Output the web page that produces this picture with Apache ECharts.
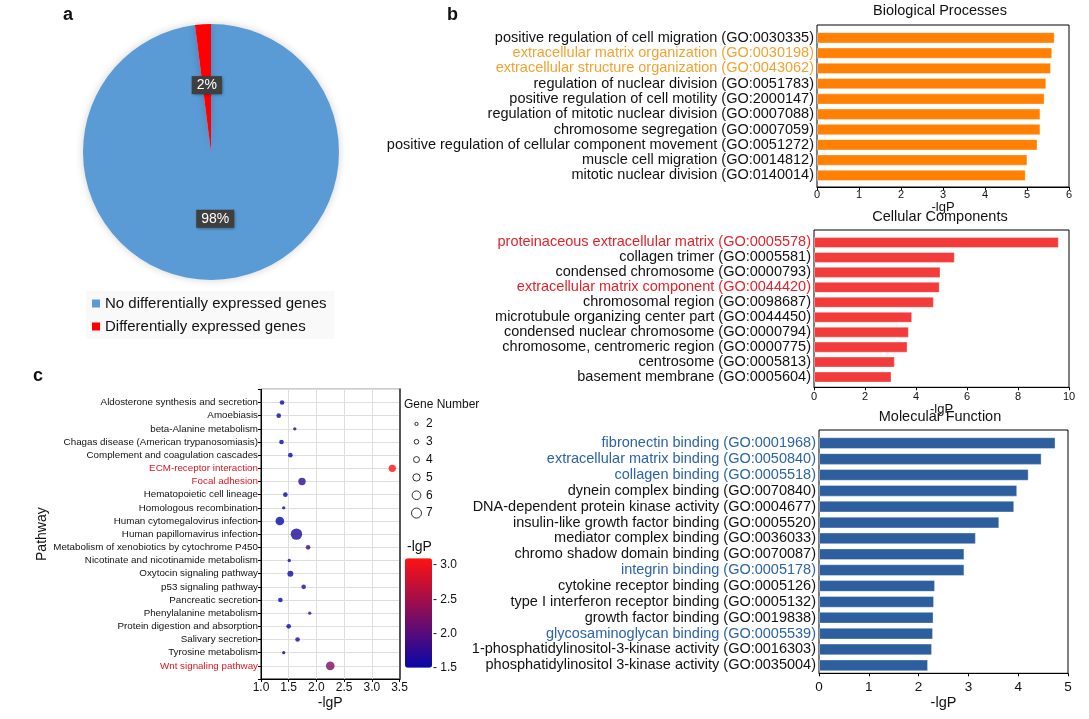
<!DOCTYPE html>
<html><head><meta charset="utf-8">
<script src="https://cdn.jsdelivr.net/npm/echarts@6/dist/echarts.min.js"></script>
<style>html,body{margin:0;padding:0;background:#fff}#c{width:1089px;height:719px}</style>
</head><body><div id="c"></div><script>
const FONT = '"Liberation Sans", Arial, Helvetica, sans-serif';

// ---- panel a: pie ----
const pieNames = ['No differentially expressed genes', 'Differentially expressed genes'];
const pieValues = [98, 2];
const pieColors = ['#5b9bd5', '#ff0000'];

// ---- panel b: GO enrichment ----
const bpTerms = [
  'positive regulation of cell migration (GO:0030335)',
  'extracellular matrix organization (GO:0030198)',
  'extracellular structure organization (GO:0043062)',
  'regulation of nuclear division (GO:0051783)',
  'positive regulation of cell motility (GO:2000147)',
  'regulation of mitotic nuclear division (GO:0007088)',
  'chromosome segregation (GO:0007059)',
  'positive regulation of cellular component movement (GO:0051272)',
  'muscle cell migration (GO:0014812)',
  'mitotic nuclear division (GO:0140014)'
];
const bpValues = [5.66, 5.60, 5.57, 5.46, 5.42, 5.32, 5.32, 5.25, 5.01, 4.97];
const bpHighlight = ['extracellular matrix organization (GO:0030198)', 'extracellular structure organization (GO:0043062)'];

const ccTerms = [
  'proteinaceous extracellular matrix (GO:0005578)',
  'collagen trimer (GO:0005581)',
  'condensed chromosome (GO:0000793)',
  'extracellular matrix component (GO:0044420)',
  'chromosomal region (GO:0098687)',
  'microtubule organizing center part (GO:0044450)',
  'condensed nuclear chromosome (GO:0000794)',
  'chromosome, centromeric region (GO:0000775)',
  'centrosome (GO:0005813)',
  'basement membrane (GO:0005604)'
];
const ccValues = [9.60, 5.52, 4.96, 4.93, 4.70, 3.85, 3.72, 3.67, 3.17, 3.04];
const ccHighlight = ['proteinaceous extracellular matrix (GO:0005578)', 'extracellular matrix component (GO:0044420)'];

const mfTerms = [
  'fibronectin binding (GO:0001968)',
  'extracellular matrix binding (GO:0050840)',
  'collagen binding (GO:0005518)',
  'dynein complex binding (GO:0070840)',
  'DNA-dependent protein kinase activity (GO:0004677)',
  'insulin-like growth factor binding (GO:0005520)',
  'mediator complex binding (GO:0036033)',
  'chromo shadow domain binding (GO:0070087)',
  'integrin binding (GO:0005178)',
  'cytokine receptor binding (GO:0005126)',
  'type I interferon receptor binding (GO:0005132)',
  'growth factor binding (GO:0019838)',
  'glycosaminoglycan binding (GO:0005539)',
  '1-phosphatidylinositol-3-kinase activity (GO:0016303)',
  'phosphatidylinositol 3-kinase activity (GO:0035004)'
];
const mfValues = [4.75, 4.47, 4.21, 3.98, 3.92, 3.62, 3.15, 2.92, 2.92, 2.33, 2.31, 2.30, 2.29, 2.27, 2.19];
const mfHighlight = ['fibronectin binding (GO:0001968)', 'extracellular matrix binding (GO:0050840)', 'collagen binding (GO:0005518)', 'integrin binding (GO:0005178)', 'glycosaminoglycan binding (GO:0005539)'];

// ---- panel c: KEGG bubble ----
const pathways = [
  'Aldosterone synthesis and secretion', 'Amoebiasis', 'beta-Alanine metabolism',
  'Chagas disease (American trypanosomiasis)', 'Complement and coagulation cascades',
  'ECM-receptor interaction', 'Focal adhesion', 'Hematopoietic cell lineage',
  'Homologous recombination', 'Human cytomegalovirus infection', 'Human papillomavirus infection',
  'Metabolism of xenobiotics by cytochrome P450', 'Nicotinate and nicotinamide metabolism',
  'Oxytocin signaling pathway', 'p53 signaling pathway', 'Pancreatic secretion',
  'Phenylalanine metabolism', 'Protein digestion and absorption', 'Salivary secretion',
  'Tyrosine metabolism', 'Wnt signaling pathway'
];
const pathwayLgP = [1.38, 1.32, 1.61, 1.37, 1.53, 3.37, 1.74, 1.44, 1.41, 1.34, 1.64, 1.85, 1.51, 1.53, 1.77, 1.35, 1.88, 1.50, 1.66, 1.41, 2.25];
const pathwayGenes = [3, 3, 2, 3, 3, 5, 5, 3, 2, 6, 8, 3, 2, 4, 3, 3, 2, 3, 3, 2, 6];
const pathwayHighlight = ['ECM-receptor interaction', 'Focal adhesion', 'Wnt signaling pathway'];
const geneLegendValues = [2, 3, 4, 5, 6, 7];
const colorTicks = [1.5, 2.0, 2.5, 3.0];

const bpColor = '#ff8003', bpHi = '#f2a32f';
const ccColor = '#f23c3c', ccHi = '#e3232b';
const mfColor = '#2d5f9e', mfHi = '#2c63a8';

const txt = '#111';
function sizeOf(n) { return 1.35 * n + 0.6; }
const cMin = 1.5, cMax = 3.1;
const bubbleData = pathways.map((p, i) => [pathwayLgP[i], p, pathwayGenes[i], Math.max(cMin, Math.min(cMax, pathwayLgP[i]))]);
const paddedPathways = [' '].concat(pathways, ['  ']);

const chart = echarts.init(document.getElementById('c'), null, { renderer: 'canvas', width: 1089, height: 719 });

function frameGrid(l, t, w, h) { return { left: l, top: t, width: w, height: h, show: true, borderColor: '#000', borderWidth: 1, backgroundColor: 'transparent', containLabel: false, outerBoundsMode: 'none' }; }
function plainGrid(l, t, w, h) { return { left: l, top: t, width: w, height: h, show: false, containLabel: false, outerBoundsMode: 'none' }; }

const grid = [
  frameGrid(817, 25, 252, 162),      // 0 BP frame
  plainGrid(817, 30.2, 252, 152.8),  // 1 BP bars
  frameGrid(814, 230, 255, 157.3),   // 2 CC frame
  plainGrid(814, 235, 255, 149.5),   // 3 CC bars
  frameGrid(819, 430, 249, 243.3),   // 4 MF frame
  plainGrid(819, 435.2, 249, 238.1), // 5 MF bars
  frameGrid(261, 389.3, 138.5, 289.7), // 6 bubble
  plainGrid(411, 415, 11, 107),      // 7 gene legend
  plainGrid(405, 565, 27, 102.7)     // 8 colorbar ticks
];

function frameX(gi, max, interval, fs, margin, nameGap, nameFs) {
  return {
    type: 'value', gridIndex: gi, min: 0, max: max, interval: interval,
    axisLine: { show: true, lineStyle: { color: '#000', width: 1 } },
    axisTick: { show: true, length: 3, lineStyle: { color: '#000' } },
    axisLabel: { fontSize: fs, color: txt, margin: margin, fontFamily: FONT },
    splitLine: { show: false },
    name: '-lgP', nameLocation: 'middle', nameGap: nameGap,
    nameTextStyle: { fontSize: nameFs, color: txt, fontFamily: FONT }
  };
}
function hiddenX(gi, max) { return { type: 'value', gridIndex: gi, min: 0, max: max, show: false }; }
function hiddenY(gi) { return { type: 'value', gridIndex: gi, min: 0, max: 1, show: false }; }
function barY(gi, terms, hi, hiColor) {
  return {
    type: 'category', gridIndex: gi, data: terms, inverse: true,
    axisLine: { show: false }, axisTick: { show: false },
    axisLabel: { fontSize: 14.5, margin: 3, fontFamily: FONT, interval: 0,
      color: function (v) { return hi.indexOf(v) >= 0 ? hiColor : txt; } }
  };
}

const xAxis = [
  frameX(0, 6, 1, 11, 2, 11, 13),
  hiddenX(1, 6),
  frameX(2, 10, 2, 11, 4, 13, 13),
  hiddenX(3, 10),
  frameX(4, 5, 1, 13.5, 7, 20, 14.5),
  hiddenX(5, 5),
  {
    type: 'value', gridIndex: 6, min: 1.0, max: 3.5, interval: 0.5,
    axisLine: { show: true, lineStyle: { color: '#000' } },
    axisTick: { show: true, length: 3, lineStyle: { color: '#000' } },
    axisLabel: { fontSize: 12, color: txt, margin: 3, fontFamily: FONT, formatter: v => v.toFixed(1) },
    splitLine: { show: true, lineStyle: { color: '#dedede', width: 1 } },
    name: '-lgP', nameLocation: 'middle', nameGap: 17,
    nameTextStyle: { fontSize: 14, color: txt, fontFamily: FONT }
  },
  { type: 'value', gridIndex: 7, min: 0, max: 1, show: false },
  { type: 'value', gridIndex: 8, min: 0, max: 1, show: false }
];

const yAxis = [
  hiddenY(0),
  barY(1, bpTerms, bpHighlight, bpHi),
  hiddenY(2),
  barY(3, ccTerms, ccHighlight, ccHi),
  hiddenY(4),
  barY(5, mfTerms, mfHighlight, mfHi),
  {
    type: 'category', gridIndex: 6, data: paddedPathways, inverse: true, boundaryGap: false,
    axisLine: { show: true, lineStyle: { color: '#000' } },
    axisTick: { show: true, length: 3, lineStyle: { color: '#000' } },
    axisLabel: { fontSize: 9.8, margin: 3, interval: 0, fontFamily: FONT,
      color: function (v) { return pathwayHighlight.indexOf(v) >= 0 ? '#e0141e' : txt; } },
    splitLine: { show: true, interval: 0, lineStyle: { color: '#dedede', width: 1 } },
    name: 'Pathway', nameLocation: 'middle', nameGap: 208, nameRotate: 90,
    nameTextStyle: { fontSize: 14, color: txt, fontFamily: FONT }
  },
  {
    type: 'value', gridIndex: 6, position: 'right', min: 0, max: 1,
    axisLine: { show: true, lineStyle: { color: '#555', width: 2 } },
    axisTick: { show: false }, axisLabel: { show: false }, splitLine: { show: false }
  },
  {
    type: 'category', gridIndex: 7, data: geneLegendValues.map(String), inverse: true, position: 'right',
    axisLine: { show: false }, axisTick: { show: false },
    axisLabel: { fontSize: 12, margin: 4, color: txt, fontFamily: FONT, interval: 0 }
  },
  {
    type: 'value', gridIndex: 8, position: 'right', min: 1.5, max: 3.0, interval: 0.5,
    axisLine: { show: false },
    axisTick: { show: false },
    axisLabel: { fontSize: 12, margin: 1, color: txt, fontFamily: FONT,
      formatter: v => colorTicks.some(t => Math.abs(t - v) < 1e-6) ? '- ' + v.toFixed(1) : '' },
    splitLine: { show: false }
  }
];

function barSeries(xi, yi, values, color) {
  return {
    type: 'bar', xAxisIndex: xi, yAxisIndex: yi, data: values, barCategoryGap: '26%',
    itemStyle: { color: color, borderColor: 'rgba(255,255,255,0.35)', borderWidth: 1 },
    silent: true, animation: false
  };
}

const titleStyle = (fs, bold) => ({ fontSize: fs, fontWeight: bold ? 'bold' : 'normal', color: txt, fontFamily: FONT });

const option = {
  backgroundColor: '#fff',
  animation: false,
  textStyle: { fontFamily: FONT },
  title: [
    { text: 'a', left: 63, top: 6, padding: 0, textStyle: titleStyle(18, true) },
    { text: 'b', left: 447, top: 6, padding: 0, textStyle: titleStyle(18, true) },
    { text: 'c', left: 33, top: 367, padding: 0, textStyle: titleStyle(18, true) },
    { text: 'Biological Processes', left: 940, top: 3, textAlign: 'center', padding: 0, textStyle: titleStyle(14.5) },
    { text: 'Cellular Components', left: 940, top: 209, textAlign: 'center', padding: 0, textStyle: titleStyle(14.5) },
    { text: 'Molecular Function', left: 940, top: 409, textAlign: 'center', padding: 0, textStyle: titleStyle(14.5) },
    { text: 'Gene Number', left: 404, top: 399, padding: 0, textStyle: titleStyle(12) },
    { text: '-lgP', left: 407, top: 540, padding: 0, textStyle: titleStyle(14) }
  ],
  legend: {
    orient: 'vertical', left: 86, top: 291, padding: [5, 8, 5, 6],
    itemWidth: 8, itemHeight: 8, itemGap: 8, icon: 'rect',
    backgroundColor: 'rgba(0,0,0,0.025)',
    textStyle: { fontSize: 15, color: txt, fontFamily: FONT },
    data: pieNames, selectedMode: false
  },
  grid: grid,
  xAxis: xAxis,
  yAxis: yAxis,
  visualMap: {
    type: 'continuous', seriesIndex: 3, dimension: 3, min: cMin, max: cMax,
    inRange: { color: ['#0808a8', '#ff1212'] },
    orient: 'vertical', left: 405, top: 558.3, itemWidth: 27, itemHeight: 109.4,
    padding: 0, calculable: false, hoverLink: false, text: null, show: true
  },
  series: [
    barSeries(1, 1, bpValues, bpColor),
    barSeries(3, 3, ccValues, ccColor),
    barSeries(5, 5, mfValues, mfColor),
    {
      type: 'scatter', xAxisIndex: 6, yAxisIndex: 6, data: bubbleData,
      symbol: 'circle', symbolSize: v => sizeOf(v[2]), silent: true
    },
    {
      type: 'scatter', xAxisIndex: 7, yAxisIndex: 8,
      data: geneLegendValues.map(g => [0.5, String(g), g]),
      symbol: 'circle', symbolSize: v => sizeOf(v[2]),
      itemStyle: { color: 'rgba(0,0,0,0)', borderColor: '#000', borderWidth: 1 }, silent: true
    },
    {
      type: 'pie', center: [211, 152], radius: 128, startAngle: 90, clockwise: true,
      data: pieNames.map((n, i) => ({ name: n, value: pieValues[i], itemStyle: { color: pieColors[i] } })),
      label: {
        show: true, position: 'inside', formatter: '{d}%', fontSize: 14, color: '#fff', fontFamily: FONT,
        backgroundColor: '#3f3f3f', padding: [2, 5, 2, 5],
        shadowBlur: 3, shadowColor: 'rgba(0,0,0,0.45)', shadowOffsetX: 1, shadowOffsetY: 1
      },
      labelLine: { show: false },
      itemStyle: { borderWidth: 0, shadowBlur: 8, shadowColor: 'rgba(0,0,0,0.18)' },
      emphasis: { disabled: true }, silent: true
    }
  ]
};
chart.setOption(option);
</script></body></html>
